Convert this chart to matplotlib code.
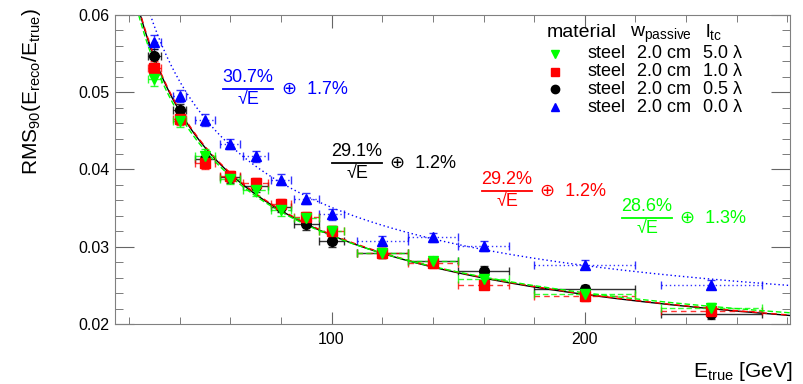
import numpy as np
import matplotlib
matplotlib.use("Agg")
import matplotlib.pyplot as plt
from matplotlib.lines import Line2D

plt.rcParams['font.family'] = ['Liberation Sans', 'DejaVu Sans']
plt.rcParams['mathtext.fontset'] = 'custom'
plt.rcParams['mathtext.rm'] = 'Liberation Sans'
plt.rcParams['mathtext.it'] = 'Liberation Sans'
plt.rcParams['mathtext.default'] = 'rm'

# beam energies [GeV] and horizontal error
energy = [30, 40, 50, 60, 70, 80, 90, 100, 120, 140, 160, 200, 250]
energy_err = [2.5, 2.5, 4, 4, 5, 4, 5, 5, 10, 10, 10, 20, 20]

# RMS90 resolution per setup
res_5p0 = [0.0517, 0.0463, 0.0418, 0.0388, 0.0373, 0.0347, 0.0337, 0.0320, 0.0292, 0.0281, 0.0258, 0.0239, 0.0221]
res_1p0 = [0.0531, 0.0466, 0.0409, 0.0391, 0.0382, 0.0355, 0.0338, 0.0320, 0.0292, 0.0279, 0.0251, 0.0236, 0.0217]
res_0p5 = [0.0547, 0.0477, 0.0413, 0.0390, 0.0378, 0.0352, 0.0329, 0.0307, 0.0292, 0.0281, 0.0269, 0.0245, 0.0213]
res_0p0 = [0.0565, 0.0495, 0.0464, 0.0433, 0.0417, 0.0387, 0.0362, 0.0342, 0.0308, 0.0312, 0.0301, 0.0277, 0.0251]
res_err = [0.0009, 0.0008, 0.0008, 0.0007, 0.0007, 0.0007, 0.0007, 0.0007, 0.0006, 0.0006, 0.0006, 0.0006, 0.0006]

# fit results: stochastic term, constant term
fit_stoch = [0.286, 0.292, 0.291, 0.307]
fit_const = [0.013, 0.012, 0.012, 0.017]

labels_tc = ['5.0 \u03bb', '1.0 \u03bb', '0.5 \u03bb', '0.0 \u03bb']
colors = ['#00ff00', '#ff0000', 'black', '#0000ff']
markers = ['v', 's', 'o', '^']
styles = [(0, (4, 2)), (0, (4, 3)), '-', (0, (1, 2))]

fig = plt.figure(figsize=(8.04, 3.84), dpi=100)
ax = fig.add_axes([115/804, 1-324/384, 675/804, 309/384])

series = [res_5p0, res_1p0, res_0p5, res_0p0]
order = [3, 2, 1, 0]
for i in order:
    eb = ax.errorbar(energy, series[i], xerr=energy_err, yerr=res_err, fmt='none',
                     ecolor=colors[i], elinewidth=1, capsize=3, capthick=1, alpha=0.8)
    eb[2][0].set_linestyle(styles[i])
    eb[2][1].set_linestyle(styles[i])
    e = np.linspace(20, 281, 300)
    ax.plot(e, np.sqrt((fit_stoch[i]/np.sqrt(e))**2 + fit_const[i]**2), color=colors[i],
            lw=1, ls=styles[i])
for i in order:
    ax.plot(energy, series[i], ls='none', marker=markers[i], color=colors[i], ms=7)

ax.set_xlim(14.5, 281)
ax.set_ylim(0.02, 0.06)
ax.set_xticks([100, 200])
ax.set_xticks(np.arange(20, 281, 20), minor=True)
ax.set_yticks([0.02, 0.03, 0.04, 0.05, 0.06])
ax.set_yticks(np.arange(0.02, 0.0601, 0.002), minor=True)
ax.set_yticklabels(['0.02', '0.03', '0.04', '0.05', '0.06'])
ax.tick_params(which='both', direction='in', top=True, right=True, labelsize=11.5, colors='#666666',
               labelcolor='black')
ax.tick_params(axis='y', which='major', length=14, pad=4)
ax.tick_params(axis='y', which='minor', length=6)
ax.tick_params(axis='x', which='major', length=9, pad=6)
ax.tick_params(axis='x', which='minor', length=5)
for s in ax.spines.values():
    s.set_color('#808080')

fig.text(32/804, 1-92/384, r'RMS$_{90}$(E$_{reco}$/E$_{true}$)', rotation=90,
         ha='center', va='center', fontsize=15)
fig.text(792/804, 1-377/384, r'E$_{true}$ [GeV]', ha='right', va='baseline', fontsize=15)


def px(x, y):
    return x/804, 1-y/384


# fit annotations
notes = [('30.7%', '1.7%', '#0000ff', 248, 89, 282),
         ('29.1%', '1.2%', 'black', 357, 163, 390),
         ('29.2%', '1.2%', '#ff0000', 507, 191, 540),
         ('28.6%', '1.3%', '#00ff00', 647, 218, 680)]
for num, const, c, cx, by, ox in notes:
    fig.text(*px(cx, by-3), num, color=c, ha='center', va='bottom', fontsize=13)
    fig.add_artist(Line2D([(cx-25)/804, (cx+25)/804], [1-by/384, 1-by/384], color=c, lw=1.3))
    fig.text(*px(cx, by+2), '\u221aE', color=c, ha='center', va='top', fontsize=13)
    fig.text(*px(ox, by), '\u2295  ' + const, color=c, ha='left', va='center', fontsize=13)

# legend table
fig.text(*px(547, 37), 'material', ha='left', va='baseline', fontsize=14)
fig.text(*px(630, 37), r'w$_{passive}$', ha='left', va='baseline', fontsize=14)
fig.text(*px(705, 37), r'l$_{tc}$', ha='left', va='baseline', fontsize=14)
rows_y = [54, 72, 89, 107]
for i in range(4):
    fx, fy = px(555, rows_y[i])
    fig.add_artist(Line2D([fx], [fy], marker=markers[i], color=colors[i], ms=6, ls='none'))
    fig.text(*px(588, rows_y[i]), 'steel', ha='left', va='center', fontsize=13)
    fig.text(*px(637, rows_y[i]), '2.0 cm', ha='left', va='center', fontsize=13)
    fig.text(*px(703, rows_y[i]), labels_tc[i], ha='left', va='center', fontsize=13)

fig.savefig('out.png', dpi=100)
